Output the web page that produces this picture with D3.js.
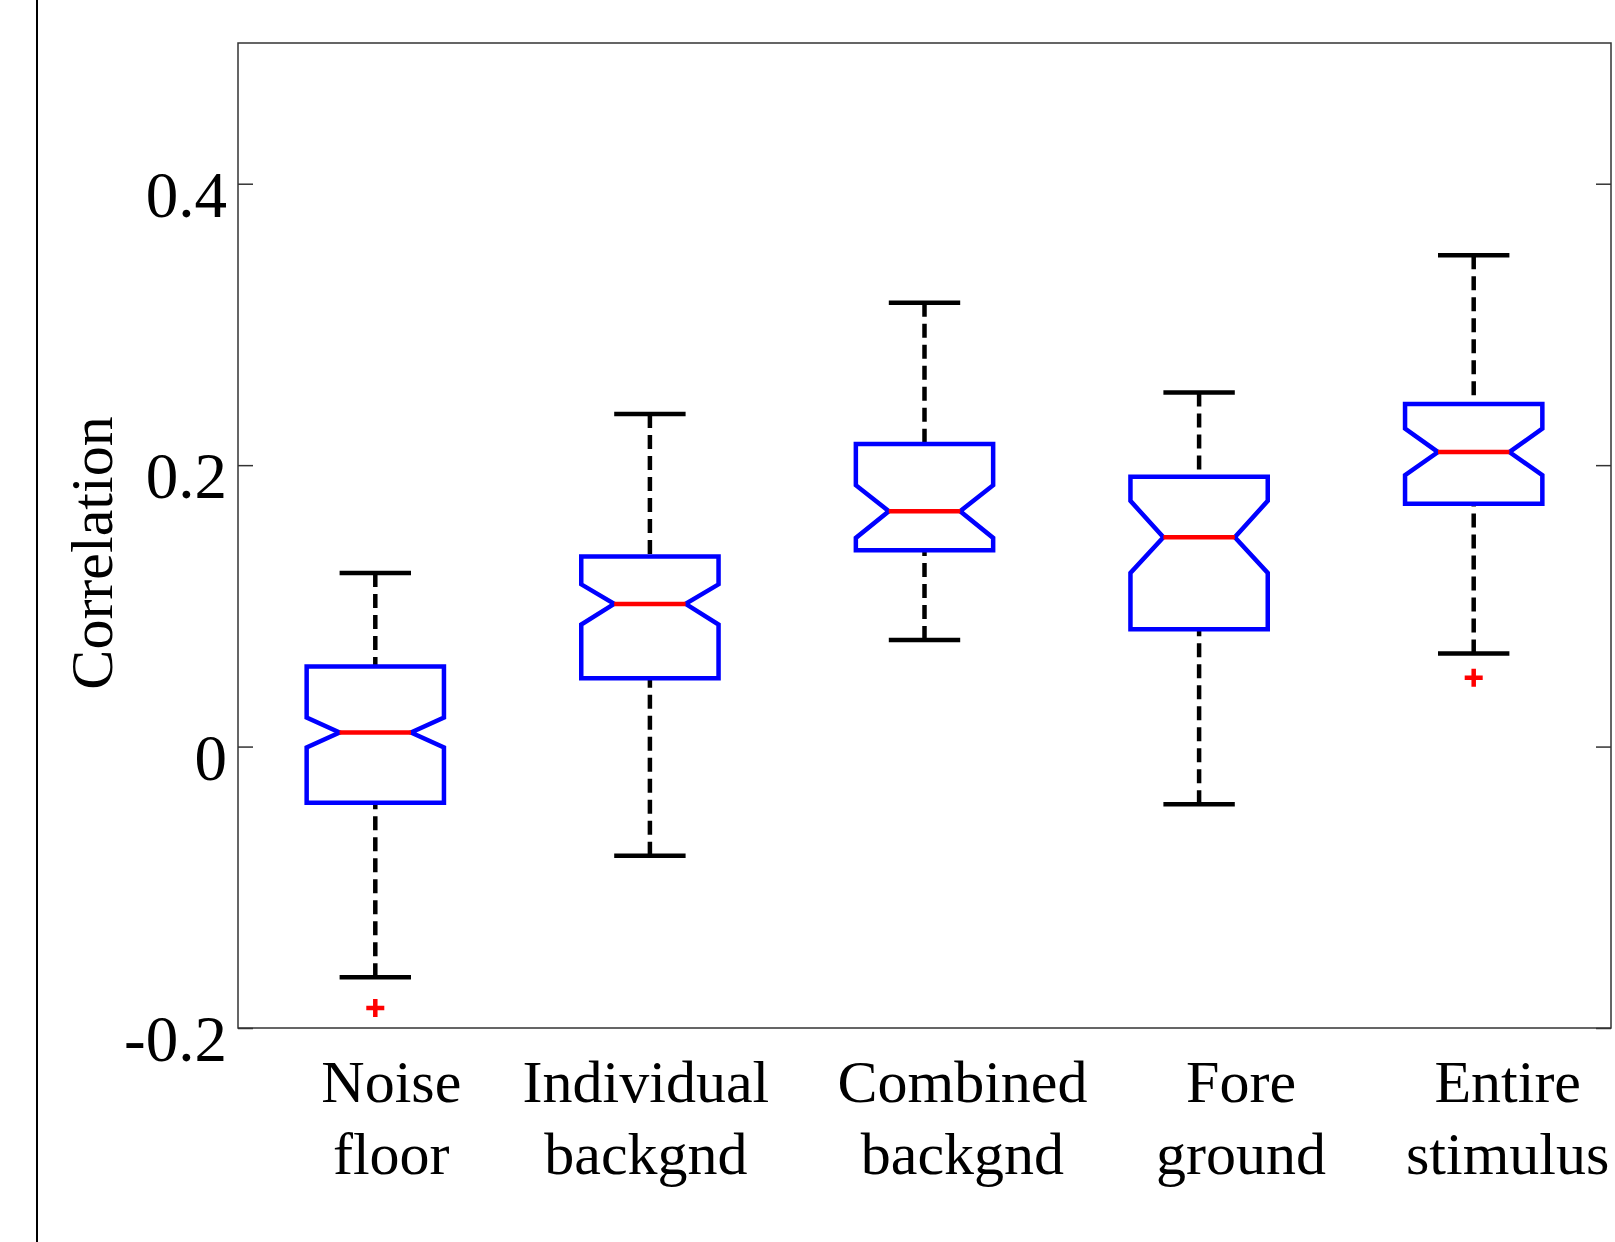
<!DOCTYPE html>
<html>
<head>
<meta charset="utf-8">
<script src="https://cdn.jsdelivr.net/npm/d3@7"></script>
<style>
  body { margin: 0; background: #fff; }
  svg { display: block; }
  text { font-family: "Liberation Serif", "DejaVu Serif", serif; fill: #000; }
</style>
</head>
<body>
<svg id="chart"></svg>
<script>
// category names, two lines each
const categories = [
  ["Noise", "floor"],
  ["Individual", "backgnd"],
  ["Combined", "backgnd"],
  ["Fore", "ground"],
  ["Entire", "stimulus"]
];

// box statistics
const whiskerLow  = [-0.164, -0.0775, 0.0757, -0.041, 0.0662];
const q1          = [-0.040, 0.0486, 0.1395, 0.0833, 0.1725];
const notchLow    = [-0.0007, 0.0867, 0.1483, 0.1234, 0.1929];
const medians     = [0.0100, 0.1014, 0.1673, 0.1488, 0.2093];
const notchHigh   = [0.0206, 0.1153, 0.1857, 0.1746, 0.2259];
const q3          = [0.0569, 0.1351, 0.2150, 0.1917, 0.2434];
const whiskerHigh = [0.1233, 0.2363, 0.3154, 0.2517, 0.3492];
const outliers    = [[-0.1858], [], [], [], [0.0489]];

const yTicks = [-0.2, 0, 0.2, 0.4];
const yTickLabels = ["-0.2", "0", "0.2", "0.4"];

// layout
const width = 1615, height = 1242;
const plot = { left: 238, right: 1611, top: 43, bottom: 1028 };
const labelNudge = [16, -4, 38, 42, 34]; // label offsets from box centre (px)

const svg = d3.select("#chart")
  .attr("width", width)
  .attr("height", height);

const x = d3.scaleLinear().domain([0.5, 5.5]).range([plot.left, plot.right]);
const y = d3.scaleLinear().domain([-0.2, 0.5]).range([plot.bottom, plot.top]);

// outer left border line
svg.append("line")
  .attr("x1", 37).attr("x2", 37)
  .attr("y1", 0).attr("y2", height)
  .attr("stroke", "#000").attr("stroke-width", 2);

// axes
const yAxis = d3.axisLeft(y)
  .tickValues(yTicks)
  .tickFormat((d, i) => yTickLabels[i])
  .tickSize(-15)
  .tickPadding(11);

const gy = svg.append("g")
  .attr("transform", "translate(" + plot.left + ",0)")
  .call(yAxis);
gy.select(".domain").remove();
gy.selectAll("line").attr("stroke", "#333").attr("stroke-width", 1.5);
gy.selectAll("text")
  .attr("font-size", 65)
  .attr("font-family", "Liberation Serif, serif")
  .attr("dy", "0.5em");

const gyr = svg.append("g")
  .attr("transform", "translate(" + plot.right + ",0)")
  .call(d3.axisRight(y).tickValues(yTicks).tickFormat("").tickSize(-15));
gyr.select(".domain").remove();
gyr.selectAll("line").attr("stroke", "#333").attr("stroke-width", 1.5);

// frame
svg.append("rect")
  .attr("x", plot.left).attr("y", plot.top)
  .attr("width", plot.right - plot.left)
  .attr("height", plot.bottom - plot.top)
  .attr("fill", "none")
  .attr("stroke", "#333")
  .attr("stroke-width", 1.5);

const boxes = categories.map((c, i) => ({
  pos: i + 1,
  lo: whiskerLow[i], q1: q1[i], nlo: notchLow[i], med: medians[i],
  nhi: notchHigh[i], q3: q3[i], hi: whiskerHigh[i], out: outliers[i]
}));

const halfBox = 0.25, halfNotch = 0.13, halfCap = 0.13;

const g = svg.append("g");

// whiskers
g.selectAll(".whisker-up")
  .data(boxes).enter().append("line")
  .attr("x1", d => x(d.pos)).attr("x2", d => x(d.pos))
  .attr("y1", d => y(d.hi)).attr("y2", d => y(d.q3))
  .attr("stroke", "#000").attr("stroke-width", 4.5)
  .attr("stroke-dasharray", "14,7");

g.selectAll(".whisker-down")
  .data(boxes).enter().append("line")
  .attr("x1", d => x(d.pos)).attr("x2", d => x(d.pos))
  .attr("y1", d => y(d.lo)).attr("y2", d => y(d.q1))
  .attr("stroke", "#000").attr("stroke-width", 4.5)
  .attr("stroke-dasharray", "14,7");

// caps
["hi", "lo"].forEach(k => {
  g.selectAll(".cap-" + k)
    .data(boxes).enter().append("line")
    .attr("x1", d => x(d.pos - halfCap)).attr("x2", d => x(d.pos + halfCap))
    .attr("y1", d => y(d[k])).attr("y2", d => y(d[k]))
    .attr("stroke", "#000").attr("stroke-width", 4.5);
});

// notched boxes
const line = d3.line();
g.selectAll(".box")
  .data(boxes).enter().append("path")
  .attr("d", d => {
    const l = x(d.pos - halfBox), r = x(d.pos + halfBox);
    const il = x(d.pos - halfNotch), ir = x(d.pos + halfNotch);
    return line([
      [l, y(d.q3)], [r, y(d.q3)], [r, y(d.nhi)], [ir, y(d.med)],
      [r, y(d.nlo)], [r, y(d.q1)], [l, y(d.q1)], [l, y(d.nlo)],
      [il, y(d.med)], [l, y(d.nhi)]
    ]) + "Z";
  })
  .attr("fill", "none")
  .attr("stroke", "#0000ff")
  .attr("stroke-width", 4.5)
  .attr("stroke-linejoin", "miter");

// medians
g.selectAll(".median")
  .data(boxes).enter().append("line")
  .attr("x1", d => x(d.pos - halfNotch)).attr("x2", d => x(d.pos + halfNotch))
  .attr("y1", d => y(d.med)).attr("y2", d => y(d.med))
  .attr("stroke", "#ff0000").attr("stroke-width", 4.5);

// outliers as red plus signs
const outs = [];
boxes.forEach(b => b.out.forEach(v => outs.push({ pos: b.pos, v: v })));
g.selectAll(".outlier")
  .data(outs).enter().append("path")
  .attr("d", d => {
    const cx = x(d.pos), cy = y(d.v);
    return "M" + (cx - 9) + "," + cy + "H" + (cx + 9) +
           "M" + cx + "," + (cy - 9) + "V" + (cy + 9);
  })
  .attr("stroke", "#ff0000").attr("stroke-width", 4.5)
  .attr("fill", "none");

// category labels
const labels = svg.append("g").selectAll("text")
  .data(categories).enter().append("text")
  .attr("text-anchor", "middle")
  .attr("font-size", 60);

labels.each(function (d, i) {
  const t = d3.select(this);
  const cx = x(i + 1) + labelNudge[i];
  t.append("tspan").attr("x", cx).attr("y", 1102).text(d[0]);
  t.append("tspan").attr("x", cx).attr("y", 1174).text(d[1]);
});

// y label
svg.append("text")
  .attr("transform", "translate(112," + 553 + ") rotate(-90)")
  .attr("text-anchor", "middle")
  .attr("font-size", 60)
  .text("Correlation");
</script>
</body>
</html>
